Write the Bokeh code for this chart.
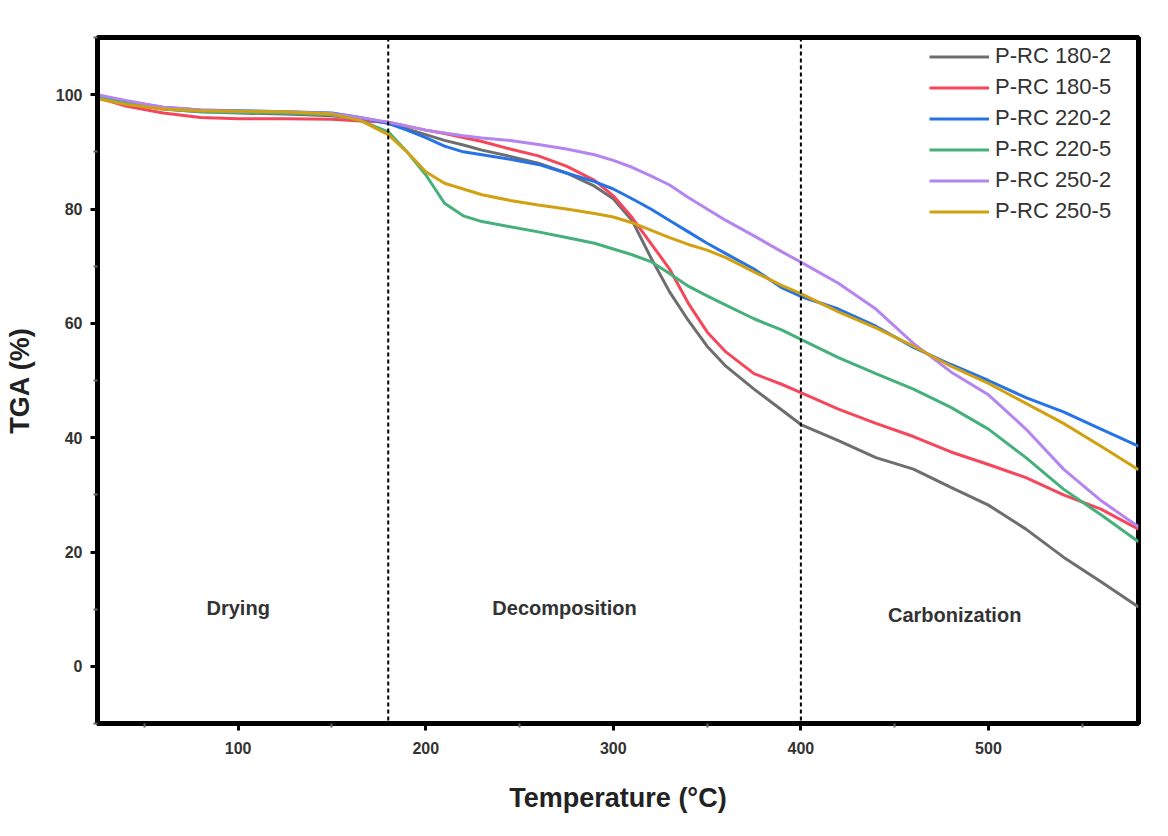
from bokeh.plotting import figure
from bokeh.models import Span, Legend, LegendItem, ColumnDataSource, Range1d, FixedTicker
from bokeh.core.properties import value
from bokeh.embed import file_html
from bokeh.resources import INLINE

temperature = [25, 40, 60, 80, 100, 125, 150, 165, 180, 190, 200, 210, 220, 230, 245, 260, 275,
               290, 300, 310, 320, 330, 340, 350, 360, 375, 390, 400, 420, 440, 460, 480, 500,
               520, 540, 560, 580]

prc_180_2 = [99.5, 98.5, 97.5, 97.0, 96.8, 96.6, 96.3, 95.8, 95.0, 94.0, 93.0, 92.0, 91.2, 90.3,
             89.2, 88.0, 86.3, 84.0, 81.8, 78.0, 71.5, 65.5, 60.5, 56.0, 52.5, 48.5, 44.8, 42.3,
             39.5, 36.5, 34.5, 31.3, 28.2, 24.0, 19.1, 14.8, 10.4]
prc_180_5 = [99.5, 98.0, 96.8, 96.0, 95.8, 95.8, 95.7, 95.4, 95.2, 94.5, 93.8, 93.2, 92.5, 91.8,
             90.5, 89.3, 87.5, 85.0, 82.3, 78.5, 74.0, 69.5, 63.5, 58.5, 55.0, 51.2, 49.3, 47.9,
             45.0, 42.5, 40.2, 37.5, 35.3, 33.0, 30.0, 27.5, 24.0]
prc_220_2 = [99.8, 98.8, 97.8, 97.3, 97.2, 97.0, 96.8, 96.0, 95.0, 93.8, 92.5, 91.0, 90.0, 89.5,
             88.7, 87.8, 86.3, 84.8, 83.5, 81.8, 80.0, 78.0, 76.0, 74.0, 72.2, 69.5, 66.2, 64.7,
             62.5, 59.5, 55.8, 52.8, 50.0, 47.0, 44.5, 41.5, 38.5]
prc_220_5 = [99.5, 98.5, 97.5, 97.0, 96.9, 96.8, 96.5, 95.5, 93.5, 90.0, 86.0, 81.0, 78.8, 77.8,
             76.9, 76.0, 75.0, 74.0, 73.0, 72.0, 70.8, 68.7, 66.5, 64.8, 63.2, 60.8, 58.8, 57.2,
             54.0, 51.2, 48.5, 45.3, 41.5, 36.5, 31.0, 26.5, 21.8]
prc_250_2 = [100.0, 99.0, 97.8, 97.3, 97.1, 97.0, 96.7, 96.0, 95.2, 94.5, 93.8, 93.3, 92.8, 92.4,
             92.0, 91.3, 90.5, 89.5, 88.5, 87.3, 85.8, 84.2, 82.0, 80.0, 78.0, 75.3, 72.5, 70.7,
             67.0, 62.5, 56.5, 51.5, 47.5, 41.5, 34.5, 29.0, 24.4]
prc_250_5 = [99.3, 98.3, 97.5, 97.2, 97.1, 97.0, 96.6, 95.5, 93.0, 90.0, 86.5, 84.5, 83.5, 82.5,
             81.5, 80.7, 80.0, 79.2, 78.6, 77.6, 76.3, 75.0, 73.8, 72.8, 71.5, 69.0, 66.6, 65.2,
             62.0, 59.2, 56.0, 52.5, 49.5, 46.0, 42.5, 38.5, 34.4]

series_names = ["P-RC 180-2", "P-RC 180-5", "P-RC 220-2", "P-RC 220-5", "P-RC 250-2", "P-RC 250-5"]
series_values = [prc_180_2, prc_180_5, prc_220_2, prc_220_5, prc_250_2, prc_250_5]
series_colors = ["#6e6e6e", "#f5475c", "#2673e6", "#45b07a", "#b585ef", "#d1a111"]

stage_boundaries = [180, 400]
stage_names = ["Drying", "Decomposition", "Carbonization"]
stage_x = [100, 274, 482]
stage_y = [10.2, 10.2, 9.0]

x_ticks = [100, 200, 300, 400, 500]
y_ticks = [0, 20, 40, 60, 80, 100]

p = figure(width=1168, height=836, output_backend="svg", toolbar_location=None,
           x_range=Range1d(25, 580), y_range=Range1d(-10, 110))
p.min_border_left = 97
p.min_border_right = 30
p.min_border_top = 37
p.min_border_bottom = 113
p.background_fill_color = "white"
p.border_fill_color = "white"
p.grid.visible = False
p.outline_line_color = "black"
p.outline_line_width = 5

for ax in (p.xaxis[0], p.yaxis[0]):
    ax.axis_line_width = 5
    ax.axis_line_color = "black"
    ax.major_tick_line_width = 3
    ax.major_tick_line_color = "black"
    ax.major_tick_out = 7
    ax.major_tick_in = 0
    ax.minor_tick_line_width = 2
    ax.minor_tick_line_color = "#666666"
    ax.minor_tick_out = 4
    ax.minor_tick_in = 0
    ax.major_label_text_font = "Liberation Sans"
    ax.major_label_text_font_style = "bold"
    ax.major_label_text_font_size = "16px"
    ax.major_label_text_color = "#333333"
    ax.axis_label_text_font = "Liberation Sans"
    ax.axis_label_text_font_style = "bold"
    ax.axis_label_text_font_size = "27px"
    ax.axis_label_text_color = "#222222"

p.xaxis.ticker = FixedTicker(ticks=x_ticks, minor_ticks=[50, 150, 250, 350, 450, 550])
p.yaxis.ticker = FixedTicker(ticks=y_ticks, minor_ticks=[-10, 10, 30, 50, 70, 90, 110])
p.xaxis.axis_label = "Temperature (°C)"
p.yaxis.axis_label = "TGA (%)"
p.xaxis.major_label_standoff = 11
p.xaxis.axis_label_standoff = 26
p.yaxis.major_label_standoff = 8
p.yaxis.axis_label_standoff = 18

for b in stage_boundaries:
    p.add_layout(Span(location=b, dimension="height", line_color="black",
                      line_width=2, line_dash="4 3"))

items = []
for name, vals, col in zip(series_names, series_values, series_colors):
    src = ColumnDataSource(dict(x=temperature, y=vals))
    r = p.line("x", "y", source=src, line_color=col, line_width=3)
    items.append(LegendItem(label=name, renderers=[r]))

legend = Legend(items=items, location=(832, 499), border_line_color=None,
                background_fill_alpha=0, label_text_font="Liberation Sans",
                label_text_font_size="22px", label_text_color="#333333",
                glyph_width=60, glyph_height=21, label_height=21, spacing=5,
                padding=6, margin=0, label_standoff=6)
p.add_layout(legend)

tsrc = ColumnDataSource(dict(x=stage_x, y=stage_y, t=stage_names))
p.text("x", "y", text="t", source=tsrc, text_align="center", text_baseline="middle",
       text_font=value("Liberation Sans"), text_font_style="bold",
       text_font_size="20px", text_color="#333333")

open("out.html", "w").write(file_html(p, INLINE))
